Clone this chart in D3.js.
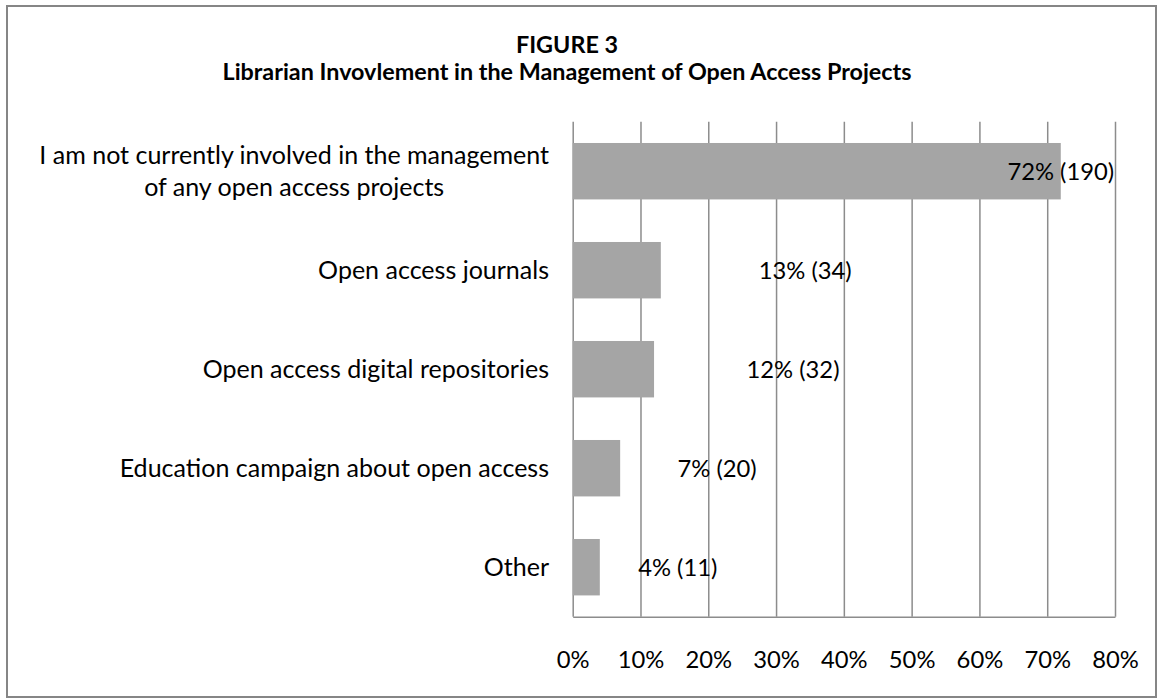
<!DOCTYPE html>
<html>
<head>
<meta charset="utf-8">
<script src="https://cdn.jsdelivr.net/npm/d3@7"></script>
<style>
  html, body { margin: 0; padding: 0; background: #fff; }
  svg { display: block; }
</style>
</head>
<body>
<script>
// data
const categories = [
  'I am not currently involved in the management\nof any open access projects',
  'Open access journals',
  'Open access digital repositories',
  'Education campaign about open access',
  'Other'
]
const shares = [0.72, 0.13, 0.12, 0.07, 0.04]
const counts = [190, 34, 32, 20, 11]
// where excel parked each data label (in axis units)
const labelAt = [0.72, 0.343, 0.325, 0.213, 0.155]
const tickValues = [0, 0.1, 0.2, 0.3, 0.4, 0.5, 0.6, 0.7, 0.8]
const titleLines = ['FIGURE 3', 'Librarian Invovlement in the Management of Open Access Projects']

const W = 1157, H = 698
const FONT = 'Lato, "Open Sans", sans-serif'
const plot = { left: 572.7, right: 1115, top: 121.7, bottom: 616.7 }

const svg = d3.select('body').append('svg')
  .attr('width', W)
  .attr('height', H)
  .style('font-family', FONT)

// calibri is not around, so size the stand-in font by measured widths
const fit = (str, weight, target) => {
  const t = svg.append('text').style('font-size', '100px').style('font-weight', weight).text(str)
  const w = t.node().getComputedTextLength()
  t.remove()
  return 100 * target / w
}
const labelSize = fit('I am not currently involved in the management', 400, 510)
const numSize = fit('13% (34)', 400, 93)
const titleSize = fit(titleLines[1], 700, 689)

// outer frame
svg.append('rect')
  .attr('x', 7).attr('y', 6)
  .attr('width', 1149).attr('height', 691)
  .attr('fill', 'none')
  .attr('stroke', '#868686')
  .attr('stroke-width', 2)

const x = d3.scaleLinear().domain([0, 0.8]).range([plot.left, plot.right])
const y = d3.scaleBand().domain(categories)
  .range([plot.top, plot.bottom])
  .paddingInner(0.43)
  .paddingOuter(0.215)

// title
svg.append('g').selectAll('text')
  .data(titleLines)
  .enter().append('text')
  .attr('x', 567)
  .attr('y', (d, i) => 53 + i * 27)
  .attr('text-anchor', 'middle')
  .style('font-weight', 700)
  .style('font-size', titleSize + 'px')
  .attr('fill', '#000')
  .text(d => d)

// x axis + vertical gridlines
const axis = svg.append('g')
  .attr('transform', 'translate(0,' + plot.bottom + ')')
  .call(d3.axisBottom(x)
    .tickValues(tickValues)
    .tickFormat(d3.format('.0%'))
    .tickSize(-(plot.bottom - plot.top))
    .tickSizeOuter(0)
    .tickPadding(51 - 0.71 * numSize))
axis.select('.domain').attr('stroke', '#8c8c8c').attr('stroke-width', 1.5)
axis.selectAll('.tick line').attr('stroke', '#8c8c8c').attr('stroke-width', 1.5)
axis.selectAll('.tick text')
  .style('font-family', FONT)
  .style('font-size', numSize + 'px')
  .attr('fill', '#000')

// bars
svg.append('g').selectAll('rect')
  .data(categories)
  .enter().append('rect')
  .attr('x', x(0))
  .attr('y', d => y(d))
  .attr('width', (d, i) => x(shares[i]) - x(0))
  .attr('height', y.bandwidth())
  .attr('fill', '#a5a5a5')

// data labels
svg.append('g').selectAll('text')
  .data(categories)
  .enter().append('text')
  .attr('x', (d, i) => x(labelAt[i]))
  .attr('y', d => y(d) + y.bandwidth() / 2)
  .attr('dy', '0.35em')
  .attr('text-anchor', 'middle')
  .style('font-size', numSize + 'px')
  .attr('fill', '#000')
  .text((d, i) => d3.format('.0%')(shares[i]) + ' (' + counts[i] + ')')

// category labels, right-aligned block, lines centred within it
const labelRight = 549
const lineH = 32
categories.forEach(c => {
  const lines = c.split('\n')
  const t = svg.append('text')
    .style('font-size', labelSize + 'px')
    .attr('fill', '#000')
  const cy = y(c) + y.bandwidth() / 2
  const spans = lines.map((L, i) => t.append('tspan')
    .attr('y', cy + (i - (lines.length - 1) / 2) * lineH)
    .attr('dy', '0.35em')
    .text(L))
  const widest = d3.max(spans, s => s.node().getComputedTextLength())
  if (lines.length > 1) {
    spans.forEach(s => s.attr('x', labelRight - widest / 2).attr('text-anchor', 'middle'))
  } else {
    spans.forEach(s => s.attr('x', labelRight).attr('text-anchor', 'end'))
  }
})
</script>
</body>
</html>
